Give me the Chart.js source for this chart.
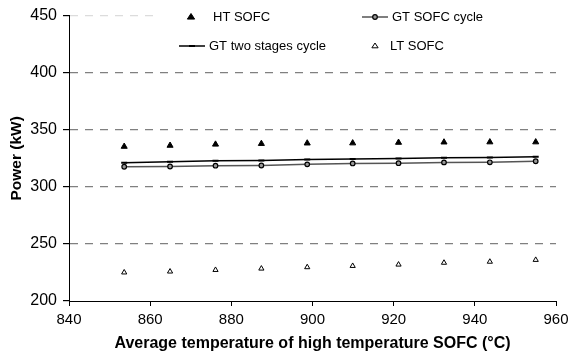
<!DOCTYPE html>
<html lang="en">
<head>
    <meta charset="UTF-8">
    <title>Power vs temperature</title>
    <script src="https://cdn.jsdelivr.net/npm/chart.js@4.4.1/dist/chart.umd.min.js"></script>
    <style>
        body { margin: 0; background: white; }
        #box { width: 569px; height: 356px; position: relative; }
    </style>
</head>
<body>
    <div id="box"><canvas id="myChart"></canvas></div>

    <script>
        // values
        const temps = [853.6, 864.9, 876.1, 887.4, 898.7, 909.9, 921.2, 932.4, 943.7, 955];
        const htSofc = [335.3, 336.2, 337.2, 337.8, 338.2, 338.3, 338.8, 339.1, 339.2, 339.2];
        const gtSofcCycle = [317.6, 317.8, 318.5, 318.7, 319.7, 320.5, 320.7, 321.4, 321.5, 322.4];
        const gtTwoStages = [321.2, 322.0, 322.9, 323.1, 323.9, 324.3, 324.9, 325.4, 325.7, 326.4];
        const ltSofc = [225, 225.8, 227.2, 228.4, 229.6, 230.7, 231.9, 233.5, 234.4, 236];
        const xTicks = [840, 860, 880, 900, 920, 940, 960];
        const yTicks = [200, 250, 300, 350, 400, 450];

        function pts(ys) {
            return temps.map((t, i) => ({x: t, y: ys[i]}));
        }

        const FONT = '"Liberation Sans", Arial, sans-serif';

        // legend drawn inside the plot, like the original
        const legendSpots = [
            {ds: 0, x: 191, y: 17, tx: 213, line: false},
            {ds: 1, x: 375, y: 17, tx: 392, line: true},
            {ds: 2, x: 192, y: 46, tx: 209, line: true},
            {ds: 3, x: 375, y: 46, tx: 390, line: false}
        ];

        function marker(ctx, ds, x, y) {
            const r = ds.pointRadius;
            ctx.save();
            ctx.lineWidth = ds.pointBorderWidth;
            ctx.strokeStyle = ds.pointBorderColor;
            ctx.fillStyle = ds.pointBackgroundColor;
            ctx.beginPath();
            if (ds.pointStyle === 'triangle') {
                ctx.moveTo(x, y - r);
                ctx.lineTo(x + r * 0.866 * 1.2, y + r * 0.6);
                ctx.lineTo(x - r * 0.866 * 1.2, y + r * 0.6);
                ctx.closePath();
                ctx.fill();
                ctx.stroke();
            } else if (ds.pointStyle === 'circle') {
                ctx.arc(x, y, r, 0, Math.PI * 2);
                ctx.fill();
                ctx.stroke();
            } else {
                ctx.moveTo(x - r, y);
                ctx.lineTo(x + r, y);
                ctx.stroke();
            }
            ctx.restore();
        }

        const insideLegend = {
            id: 'insideLegend',
            afterDraw(chart) {
                const ctx = chart.ctx;
                ctx.save();
                ctx.fillStyle = 'white';
                ctx.fillRect(160, 6, chart.chartArea.right - 160 + 2, 52);
                ctx.font = '13px ' + FONT;
                ctx.textBaseline = 'middle';
                ctx.fillStyle = '#000';
                legendSpots.forEach(s => {
                    const ds = chart.data.datasets[s.ds];
                    if (s.line) {
                        ctx.save();
                        ctx.strokeStyle = ds.borderColor;
                        ctx.lineWidth = ds.borderWidth;
                        ctx.beginPath();
                        ctx.moveTo(s.x - 13, s.y);
                        ctx.lineTo(s.x + 13, s.y);
                        ctx.stroke();
                        ctx.restore();
                    }
                    marker(ctx, ds, s.x, s.y);
                    ctx.fillText(ds.label, s.tx, s.y);
                });
                ctx.restore();
            }
        };

        new Chart("myChart", {
            type: "scatter",
            data: {
                datasets: [{
                    label: "HT SOFC",
                    data: pts(htSofc),
                    showLine: false,
                    pointStyle: 'triangle',
                    pointRadius: 3.5,
                    pointBorderWidth: 1,
                    pointBorderColor: '#000',
                    pointBackgroundColor: '#000'
                }, {
                    label: "GT SOFC cycle",
                    data: pts(gtSofcCycle),
                    showLine: true,
                    borderColor: '#555',
                    borderWidth: 1.5,
                    pointStyle: 'circle',
                    pointRadius: 2.3,
                    pointBorderWidth: 1.2,
                    pointBorderColor: '#000',
                    pointBackgroundColor: '#999'
                }, {
                    label: "GT two stages cycle",
                    data: pts(gtTwoStages),
                    showLine: true,
                    borderColor: '#000',
                    borderWidth: 1.5,
                    pointStyle: 'line',
                    pointRadius: 3,
                    pointBorderWidth: 2,
                    pointBorderColor: '#000',
                    pointBackgroundColor: '#000'
                }, {
                    label: "LT SOFC",
                    data: pts(ltSofc),
                    showLine: false,
                    pointStyle: 'triangle',
                    pointRadius: 3,
                    pointBorderWidth: 1,
                    pointBorderColor: '#000',
                    pointBackgroundColor: '#fff'
                }]
            },
            options: {
                responsive: true,
                maintainAspectRatio: false,
                animation: false,
                layout: {padding: {top: 15, right: 13, left: 0, bottom: 0}},
                plugins: {
                    legend: {display: false},
                    tooltip: {enabled: false}
                },
                scales: {
                    x: {
                        type: 'linear',
                        min: 840,
                        max: 960,
                        afterBuildTicks: s => { s.ticks = xTicks.map(v => ({value: v})); },
                        afterFit: s => { s.height = 55; s.paddingLeft = 0; s.paddingRight = 0; },
                        border: {display: true, color: '#000', width: 1},
                        grid: {drawOnChartArea: false, drawTicks: true, tickLength: 5, tickColor: '#000'},
                        ticks: {color: '#000', padding: 5, font: {family: FONT, size: 15}},
                        title: {
                            display: true,
                            text: 'Average temperature of high temperature SOFC (°C)',
                            color: '#000',
                            padding: {top: 0, bottom: 3},
                            font: {family: FONT, size: 16, weight: 'bold', lineHeight: 1.2}
                        }
                    },
                    y: {
                        min: 200,
                        max: 450,
                        afterBuildTicks: s => { s.ticks = yTicks.map(v => ({value: v})); },
                        afterFit: s => { s.width = 69; },
                        border: {display: true, color: '#000', width: 1, dash: [8, 7]},
                        grid: {
                            color: c => c.tick.value === 200 ? 'rgba(0,0,0,0)' : (c.tick.value === 450 ? '#dcdcdc' : '#808080'),
                            lineWidth: 1.2,
                            tickLength: 6,
                            tickColor: '#000',
                            tickBorderDash: []
                        },
                        ticks: {color: '#000', padding: 6, font: {family: FONT, size: 16}},
                        title: {
                            display: true,
                            text: 'Power (kW)',
                            color: '#000',
                            padding: {top: 7, bottom: 0},
                            font: {family: FONT, size: 15.5, weight: 'bold', lineHeight: 1.2}
                        }
                    }
                }
            },
            plugins: [insideLegend]
        });
    </script>
</body>
</html>
